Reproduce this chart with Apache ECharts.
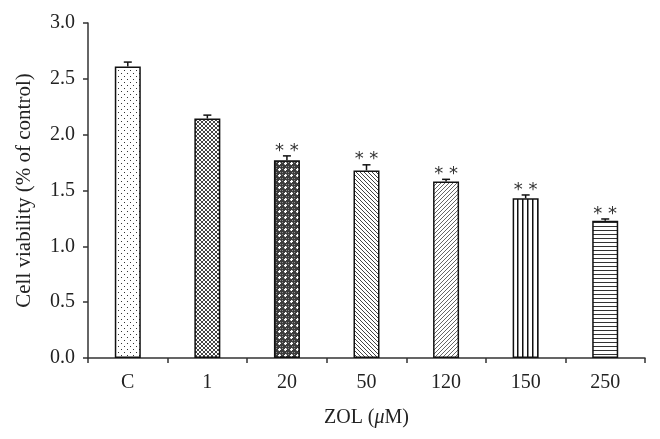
<!DOCTYPE html>
<html>
<head>
<meta charset="utf-8">
<script src="https://cdn.jsdelivr.net/npm/echarts@6/dist/echarts.min.js"></script>
<style>
  html, body { margin: 0; padding: 0; background: #fff; }
  #chart { width: 660px; height: 439px; }
</style>
</head>
<body>
<div id="chart"></div>
<script>
var categories = ['C', '1', '20', '50', '120', '150', '250'];
var viability = [2.61, 2.145, 1.77, 1.68, 1.58, 1.43, 1.23];
var errors = [0.04, 0.03, 0.04, 0.05, 0.02, 0.03, 0.015];
var marks = ['', '', '**', '**', '**', '**', '**'];
var patternNames = ['dots', 'cross', 'darkdots', 'back', 'fwd', 'vert', 'horiz'];

function makeTile(kind) {
  var c = document.createElement('canvas');
  var ctx;
  var s;
  if (kind === 'dots') {
    s = 6;
    c.width = s; c.height = s;
    ctx = c.getContext('2d');
    ctx.fillStyle = '#fff'; ctx.fillRect(0, 0, s, s);
    ctx.fillStyle = '#333';
    ctx.fillRect(1, 1, 1, 1);
    ctx.fillRect(4, 4, 1, 1);
  } else if (kind === 'cross') {
    s = 4;
    c.width = s; c.height = s;
    ctx = c.getContext('2d');
    ctx.fillStyle = '#fff'; ctx.fillRect(0, 0, s, s);
    ctx.strokeStyle = '#444'; ctx.lineWidth = 1;
    ctx.beginPath();
    ctx.moveTo(0, 0); ctx.lineTo(s, s);
    ctx.moveTo(0, s); ctx.lineTo(s, 0);
    ctx.stroke();
  } else if (kind === 'darkdots') {
    s = 6;
    c.width = s; c.height = s;
    ctx = c.getContext('2d');
    ctx.fillStyle = '#3c3c3c'; ctx.fillRect(0, 0, s, s);
    ctx.fillStyle = '#8a8a8a';
    ctx.fillRect(0, 0, 1, 1); ctx.fillRect(2, 2, 1, 1); ctx.fillRect(4, 4, 1, 1);
    ctx.fillRect(4, 0, 1, 1); ctx.fillRect(0, 4, 1, 1);
    ctx.fillStyle = '#fff';
    ctx.fillRect(3, 0, 1, 3); ctx.fillRect(2, 1, 3, 1);
  } else if (kind === 'back' || kind === 'fwd') {
    s = 4;
    c.width = s; c.height = s;
    ctx = c.getContext('2d');
    ctx.fillStyle = '#fff'; ctx.fillRect(0, 0, s, s);
    ctx.strokeStyle = kind === 'back' ? '#444' : '#666';
    ctx.lineWidth = 1;
    ctx.beginPath();
    if (kind === 'back') {
      ctx.moveTo(0, 0); ctx.lineTo(s, s);
      ctx.moveTo(-1, s - 1); ctx.lineTo(1, s + 1);
      ctx.moveTo(s - 1, -1); ctx.lineTo(s + 1, 1);
    } else {
      ctx.moveTo(0, s); ctx.lineTo(s, 0);
      ctx.moveTo(-1, 1); ctx.lineTo(1, -1);
      ctx.moveTo(s - 1, s + 1); ctx.lineTo(s + 1, s - 1);
    }
    ctx.stroke();
  } else if (kind === 'vert') {
    c.width = 5; c.height = 4;
    ctx = c.getContext('2d');
    ctx.fillStyle = '#fff'; ctx.fillRect(0, 0, 5, 4);
    ctx.fillStyle = '#111'; ctx.fillRect(2, 0, 1.5, 4);
  } else {
    c.width = 4; c.height = 4;
    ctx = c.getContext('2d');
    ctx.fillStyle = '#fff'; ctx.fillRect(0, 0, 4, 4);
    ctx.fillStyle = '#333'; ctx.fillRect(0, 2, 4, 1);
  }
  return c;
}

var barData = viability.map(function (v, i) {
  return {
    value: v,
    itemStyle: {
      color: { image: makeTile(patternNames[i]), repeat: 'repeat' },
      borderColor: '#111',
      borderWidth: 1.5
    }
  };
});

var errData = viability.map(function (v, i) {
  return [i, v, v + errors[i], marks[i]];
});

var chart = echarts.init(document.getElementById('chart'));
var font = 'Liberation Serif';

chart.setOption({
  animation: false,
  backgroundColor: '#fff',
  grid: { left: 88, right: 15, top: 23, bottom: 81 },
  xAxis: {
    type: 'category',
    data: categories,
    name: '{a|ZOL (}{b|μ}{a|M)}',
    nameLocation: 'middle',
    nameGap: 50,
    nameTextStyle: {
      rich: {
        a: { fontFamily: font, fontSize: 20, color: '#222' },
        b: { fontFamily: font, fontSize: 20, fontStyle: 'italic', color: '#222' }
      }
    },
    axisLine: { lineStyle: { color: '#333', width: 1.5 } },
    axisTick: { show: true, length: 5, lineStyle: { color: '#333', width: 1.5 } },
    axisLabel: { fontFamily: font, fontSize: 20, color: '#222', margin: 15 }
  },
  yAxis: {
    type: 'value',
    min: 0,
    max: 3,
    interval: 0.5,
    name: 'Cell viability (% of control)',
    nameLocation: 'middle',
    nameGap: 53,
    nameTextStyle: { fontFamily: font, fontSize: 21, color: '#222' },
    axisLine: { show: true, lineStyle: { color: '#333', width: 1.5 } },
    axisTick: { show: true, length: 5, lineStyle: { color: '#333', width: 1.5 } },
    axisLabel: {
      fontFamily: font, fontSize: 20, color: '#222', margin: 13,
      formatter: function (v) { return v.toFixed(1); }
    },
    splitLine: { show: false }
  },
  series: [
    {
      type: 'bar',
      data: barData,
      barWidth: 26
    },
    {
      type: 'custom',
      data: errData,
      z: 3,
      renderItem: function (params, api) {
        var x = api.value(0);
        var low = api.coord([x, api.value(1)]);
        var high = api.coord([x, api.value(2)]);
        var cap = 4;
        var style = { stroke: '#111', lineWidth: 1.5 };
        var children = [
          { type: 'line', shape: { x1: low[0], y1: low[1], x2: high[0], y2: high[1] }, style: style },
          { type: 'line', shape: { x1: high[0] - cap, y1: high[1], x2: high[0] + cap, y2: high[1] }, style: style }
        ];
        var mark = api.value(3);
        if (mark) {
          children.push({
            type: 'text',
            style: {
              x: high[0], y: high[1] - 5,
              text: '* *',
              fill: '#333',
              font: '18px DejaVu Sans',
              align: 'center',
              verticalAlign: 'middle'
            }
          });
        }
        return { type: 'group', children: children };
      }
    }
  ]
});
</script>
</body>
</html>
